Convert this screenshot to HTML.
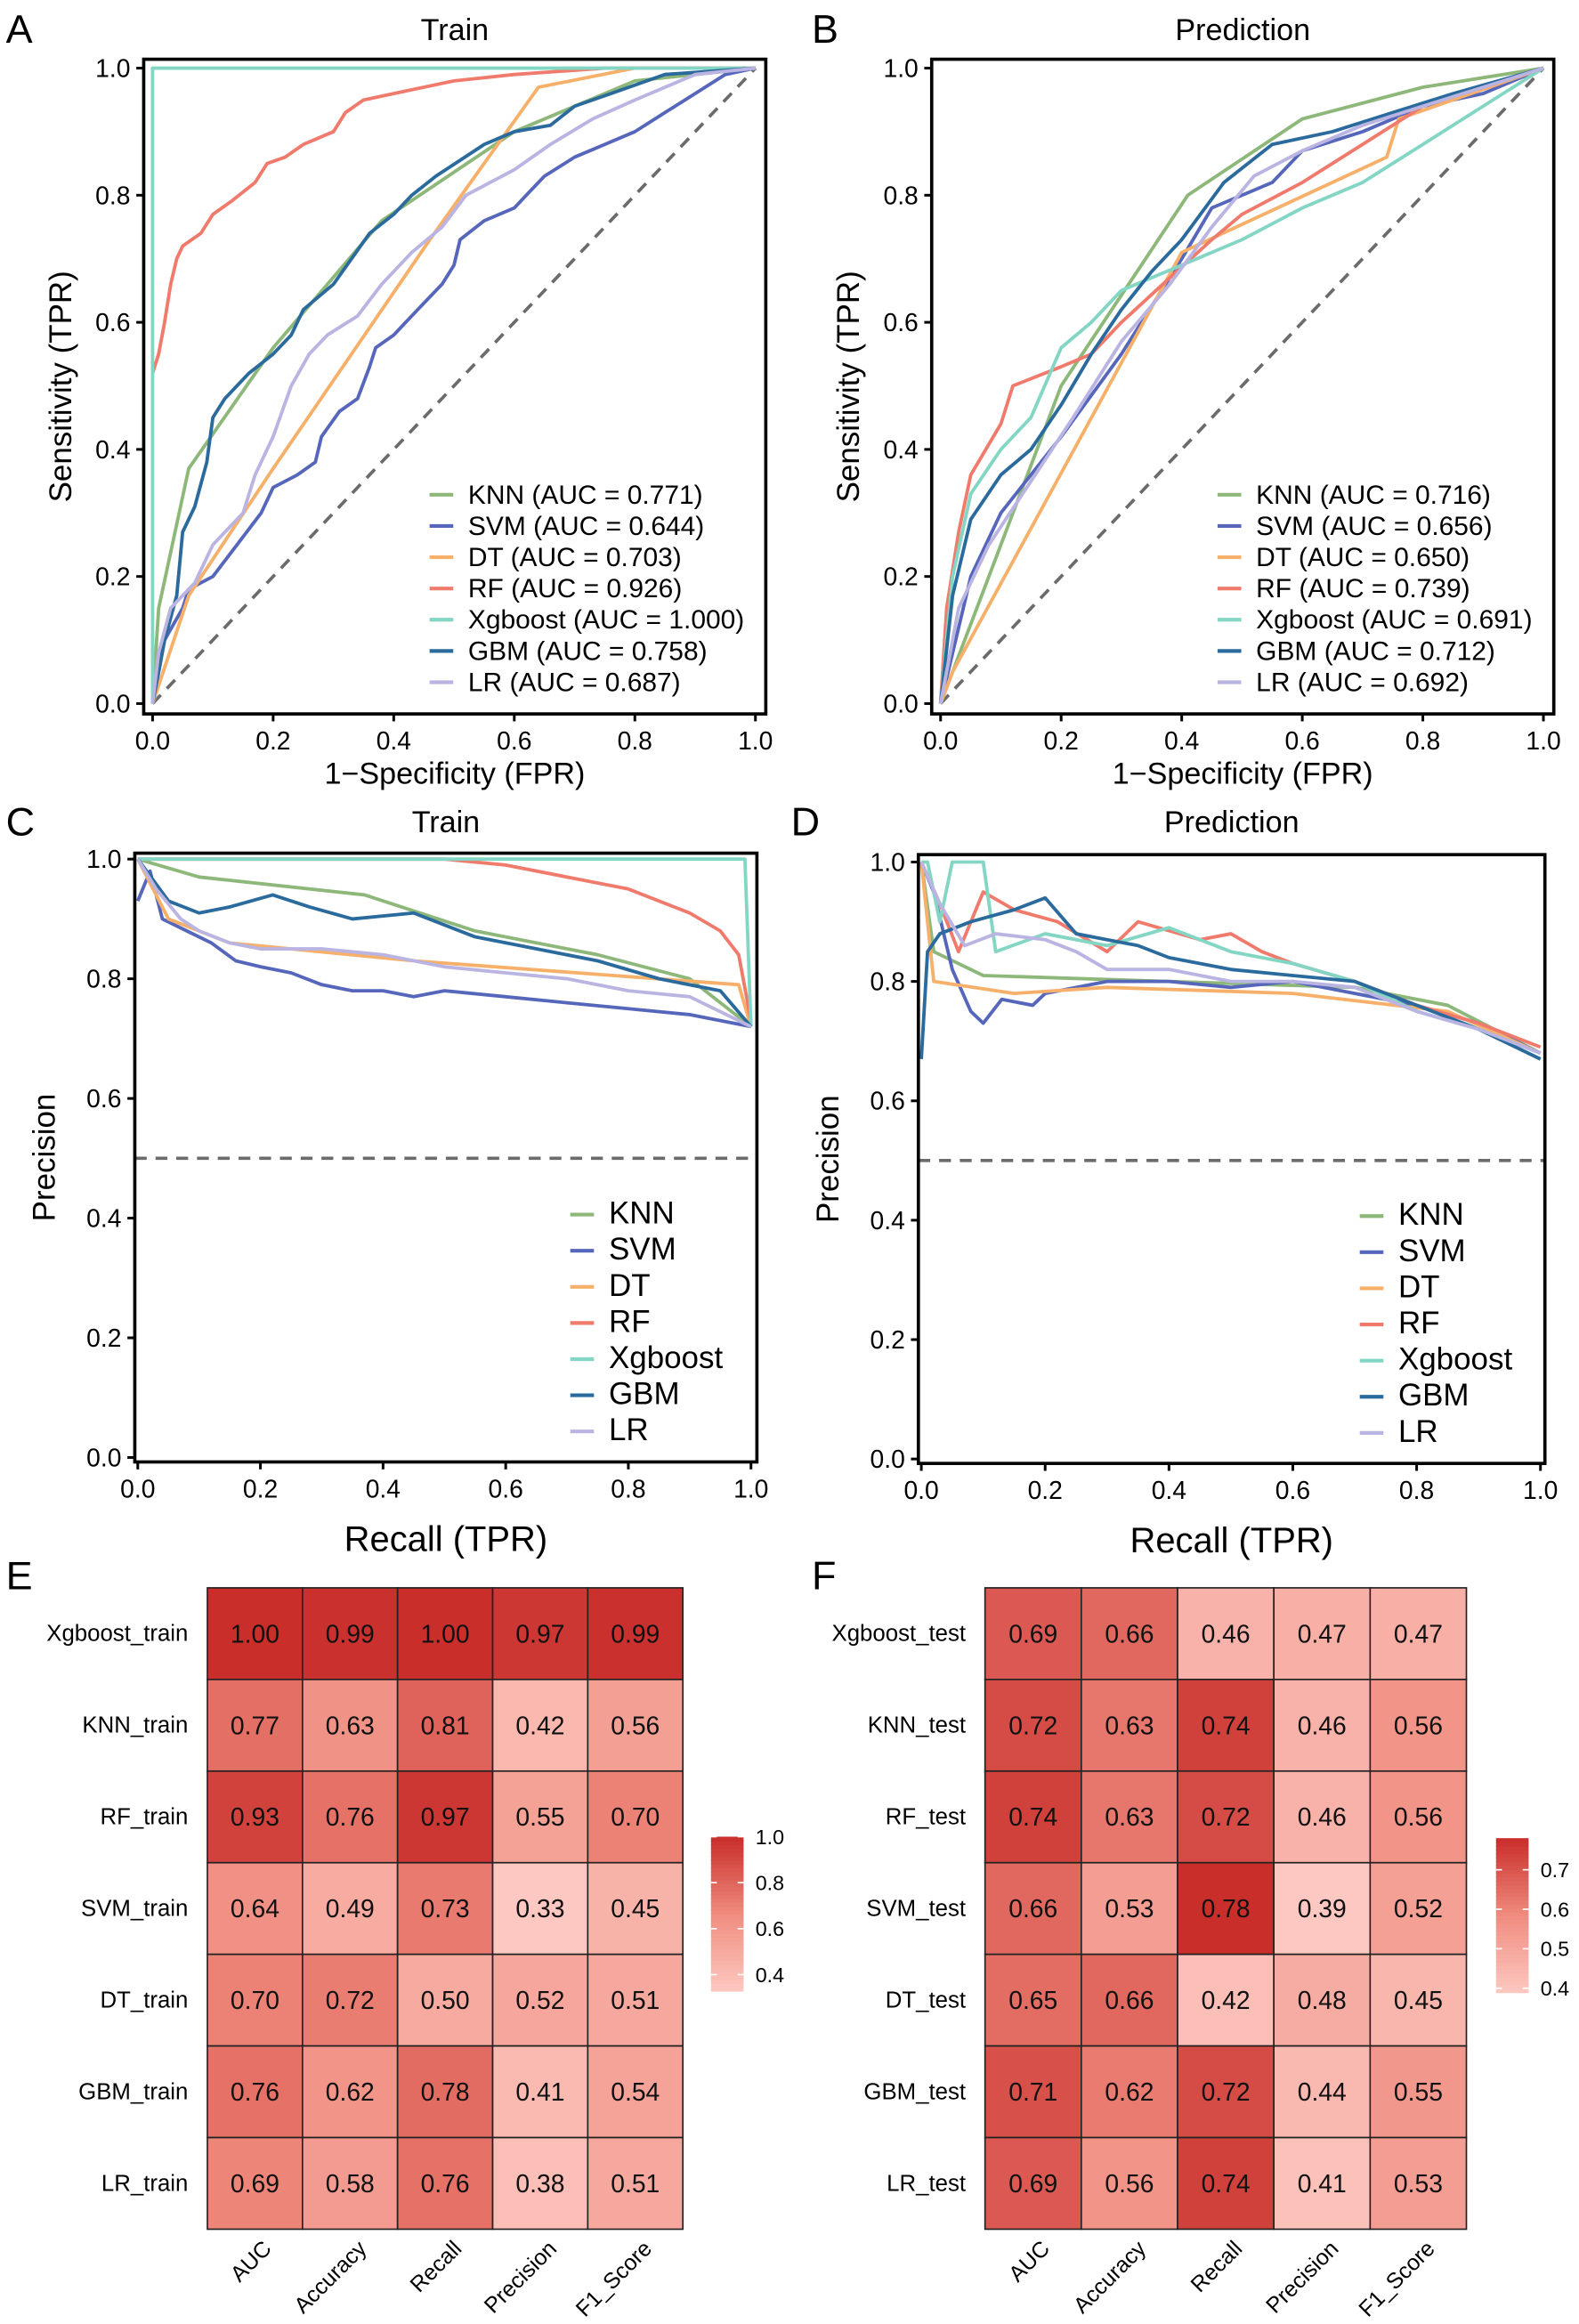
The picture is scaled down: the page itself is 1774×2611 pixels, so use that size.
<!DOCTYPE html>
<html><head><meta charset="utf-8"><style>
html,body{margin:0;padding:0;background:#fff;}
svg{display:block;font-family:"Liberation Sans",Arial,sans-serif;}
</style></head><body>
<svg id="fig" width="1774" height="2611" viewBox="0 0 1066 1569" xmlns="http://www.w3.org/2000/svg"></svg>
<script>
const models = ["KNN","SVM","DT","RF","Xgboost","GBM","LR"];
const colors = ["#8db87a","#5566bb","#f6b06a","#f07a6c","#84d6c4","#2b6a9c","#bab4e2"];
const aucTrain = ["0.771","0.644","0.703","0.926","1.000","0.758","0.687"];
const aucPred = ["0.716","0.656","0.650","0.739","0.691","0.712","0.692"];
const rocTrainKNN=[[0,0],[0.01,0.15],[0.06,0.37],[0.2,0.56],[0.38,0.76],[0.6,0.9],[0.8,0.98],[1,1]];
const rocTrainSVM=[[0,0],[0.01,0.05],[0.02,0.1],[0.05,0.15],[0.06,0.18],[0.1,0.2],[0.14,0.25],[0.18,0.3],[0.2,0.34],[0.24,0.36],[0.27,0.38],[0.28,0.42],[0.31,0.46],[0.34,0.48],[0.36,0.53],[0.37,0.56],[0.4,0.58],[0.42,0.6],[0.45,0.63],[0.48,0.66],[0.5,0.69],[0.51,0.73],[0.55,0.76],[0.6,0.78],[0.62,0.8],[0.65,0.83],[0.7,0.86],[0.75,0.88],[0.8,0.9],[0.85,0.93],[0.9,0.96],[0.95,0.99],[1,1]];
const rocTrainDT=[[0,0],[0.06,0.17],[0.2,0.37],[0.46,0.73],[0.64,0.97],[0.8,1.0],[1,1]];
const rocTrainRF=[[0,0.52],[0.01,0.55],[0.02,0.6],[0.03,0.66],[0.04,0.7],[0.05,0.72],[0.08,0.74],[0.1,0.77],[0.13,0.79],[0.17,0.82],[0.19,0.85],[0.22,0.86],[0.25,0.88],[0.3,0.9],[0.32,0.93],[0.35,0.95],[0.4,0.96],[0.5,0.98],[0.6,0.99],[0.75,1.0],[1,1]];
const rocTrainXGB=[[0,0],[0,1],[1,1]];
const rocTrainGBM=[[0,0],[0.01,0.05],[0.02,0.1],[0.04,0.17],[0.05,0.27],[0.07,0.31],[0.09,0.38],[0.1,0.45],[0.12,0.48],[0.16,0.52],[0.2,0.55],[0.23,0.58],[0.25,0.62],[0.3,0.66],[0.33,0.7],[0.36,0.74],[0.4,0.77],[0.43,0.8],[0.47,0.83],[0.55,0.88],[0.6,0.9],[0.66,0.91],[0.7,0.94],[0.76,0.96],[0.85,0.99],[1,1]];
const rocTrainLR=[[0,0],[0.01,0.08],[0.03,0.15],[0.07,0.19],[0.1,0.25],[0.15,0.3],[0.17,0.36],[0.2,0.42],[0.23,0.5],[0.26,0.55],[0.29,0.58],[0.34,0.61],[0.38,0.66],[0.43,0.71],[0.48,0.75],[0.52,0.8],[0.6,0.84],[0.66,0.88],[0.73,0.92],[0.8,0.95],[0.9,0.99],[1,1]];
const rocPredKNN=[[0,0],[0.08,0.2],[0.2,0.5],[0.41,0.8],[0.6,0.92],[0.8,0.97],[1,1]];
const rocPredSVM=[[0,0],[0.05,0.2],[0.1,0.3],[0.2,0.42],[0.3,0.55],[0.4,0.7],[0.45,0.78],[0.55,0.82],[0.6,0.87],[0.7,0.9],[0.8,0.94],[0.9,0.96],[1,1]];
const rocPredDT=[[0,0],[0.02,0.05],[0.4,0.71],[0.74,0.86],[0.76,0.92],[1,1]];
const rocPredRF=[[0,0],[0.01,0.15],[0.03,0.27],[0.05,0.36],[0.1,0.44],[0.12,0.5],[0.2,0.53],[0.25,0.55],[0.3,0.6],[0.38,0.67],[0.45,0.73],[0.5,0.77],[0.6,0.82],[0.7,0.88],[0.8,0.94],[0.9,0.97],[1,1]];
const rocPredXGB=[[0,0],[0.02,0.2],[0.05,0.33],[0.1,0.4],[0.15,0.45],[0.2,0.56],[0.25,0.6],[0.3,0.65],[0.4,0.69],[0.5,0.73],[0.6,0.78],[0.7,0.82],[0.8,0.88],[0.9,0.94],[1,1]];
const rocPredGBM=[[0,0],[0.02,0.17],[0.05,0.29],[0.1,0.36],[0.15,0.4],[0.2,0.47],[0.25,0.55],[0.3,0.62],[0.35,0.68],[0.4,0.73],[0.47,0.82],[0.55,0.88],[0.65,0.9],[0.75,0.93],[0.85,0.96],[1,1]];
const rocPredLR=[[0,0],[0.03,0.15],[0.08,0.25],[0.15,0.35],[0.22,0.45],[0.3,0.57],[0.38,0.66],[0.45,0.75],[0.52,0.83],[0.6,0.87],[0.7,0.91],[0.8,0.94],[0.9,0.97],[1,1]];
const prTrainKNN=[[0,1],[0.1,0.97],[0.37,0.94],[0.55,0.88],[0.75,0.84],[0.9,0.8],[1,0.72]];
const prTrainSVM=[[0,0.93],[0.02,0.98],[0.04,0.9],[0.08,0.88],[0.12,0.86],[0.16,0.83],[0.2,0.82],[0.25,0.81],[0.3,0.79],[0.35,0.78],[0.4,0.78],[0.45,0.77],[0.5,0.78],[0.6,0.77],[0.7,0.76],[0.8,0.75],[0.9,0.74],[1,0.72]];
const prTrainDT=[[0,1],[0.05,0.9],[0.15,0.86],[0.45,0.83],[0.98,0.79],[1,0.72]];
const prTrainRF=[[0,1],[0.5,1],[0.6,0.99],[0.7,0.97],[0.8,0.95],[0.9,0.91],[0.95,0.88],[0.98,0.84],[1,0.73]];
const prTrainXGB=[[0,1],[0.99,1],[1,0.72]];
const prTrainGBM=[[0,1],[0.05,0.93],[0.1,0.91],[0.15,0.92],[0.22,0.94],[0.28,0.92],[0.35,0.9],[0.45,0.91],[0.55,0.87],[0.65,0.85],[0.75,0.83],[0.85,0.8],[0.95,0.78],[1,0.72]];
const prTrainLR=[[0,1],[0.03,0.95],[0.07,0.9],[0.1,0.88],[0.15,0.86],[0.2,0.85],[0.3,0.85],[0.4,0.84],[0.5,0.82],[0.6,0.81],[0.7,0.8],[0.8,0.78],[0.9,0.77],[1,0.72]];
const prPredKNN=[[0,1],[0.02,0.85],[0.1,0.81],[0.4,0.8],[0.7,0.79],[0.85,0.76],[1,0.68]];
const prPredSVM=[[0,1],[0.02,0.95],[0.05,0.82],[0.08,0.75],[0.1,0.73],[0.13,0.77],[0.18,0.76],[0.2,0.78],[0.3,0.8],[0.4,0.8],[0.5,0.79],[0.6,0.8],[0.7,0.78],[0.8,0.76],[0.9,0.73],[1,0.68]];
const prPredDT=[[0,1],[0.02,0.8],[0.15,0.78],[0.3,0.79],[0.6,0.78],[0.85,0.75],[1,0.68]];
const prPredRF=[[0,1],[0.03,0.93],[0.06,0.85],[0.1,0.95],[0.15,0.92],[0.22,0.9],[0.3,0.85],[0.35,0.9],[0.45,0.87],[0.5,0.88],[0.55,0.85],[0.6,0.83],[0.7,0.8],[0.8,0.76],[0.9,0.73],[1,0.69]];
const prPredXGB=[[0,1],[0.01,1],[0.03,0.9],[0.05,1],[0.1,1],[0.12,0.85],[0.2,0.88],[0.3,0.86],[0.4,0.89],[0.5,0.85],[0.6,0.83],[0.7,0.8],[0.8,0.75],[0.9,0.72],[1,0.68]];
const prPredGBM=[[0,0.67],[0.01,0.85],[0.03,0.88],[0.08,0.9],[0.15,0.92],[0.2,0.94],[0.25,0.88],[0.3,0.87],[0.35,0.86],[0.4,0.84],[0.5,0.82],[0.6,0.81],[0.7,0.8],[0.8,0.76],[0.9,0.72],[1,0.67]];
const prPredLR=[[0,1],[0.03,0.93],[0.07,0.86],[0.12,0.88],[0.2,0.87],[0.25,0.85],[0.3,0.82],[0.4,0.82],[0.5,0.8],[0.6,0.8],[0.7,0.79],[0.8,0.75],[0.9,0.72],[1,0.68]];
const tickLabels = ["0.0","0.2","0.4","0.6","0.8","1.0"];
const metrics = ["AUC","Accuracy","Recall","Precision","F1_Score"];
const rowsTrain = ["Xgboost_train","KNN_train","RF_train","SVM_train","DT_train","GBM_train","LR_train"];
const rowsTest = ["Xgboost_test","KNN_test","RF_test","SVM_test","DT_test","GBM_test","LR_test"];
const valsTrain = [[1.00,0.99,1.00,0.97,0.99],[0.77,0.63,0.81,0.42,0.56],[0.93,0.76,0.97,0.55,0.70],[0.64,0.49,0.73,0.33,0.45],[0.70,0.72,0.50,0.52,0.51],[0.76,0.62,0.78,0.41,0.54],[0.69,0.58,0.76,0.38,0.51]];
const valsTest = [[0.69,0.66,0.46,0.47,0.47],[0.72,0.63,0.74,0.46,0.56],[0.74,0.63,0.72,0.46,0.56],[0.66,0.53,0.78,0.39,0.52],[0.65,0.66,0.42,0.48,0.45],[0.71,0.62,0.72,0.44,0.55],[0.69,0.56,0.74,0.41,0.53]];
const cbTicksTrain = [0.4,0.6,0.8,1.0];
const cbTicksTest = [0.4,0.5,0.6,0.7];

const NS="http://www.w3.org/2000/svg";
const svg=document.getElementById('fig');
function el(tag,attrs,parent,text){const e=document.createElementNS(NS,tag);for(const k in attrs)e.setAttribute(k,attrs[k]);if(text!==undefined)e.textContent=text;(parent||svg).appendChild(e);return e;}

function linePanel(cfg){
  const g=el('g',{});
  
  
  const sx=v=>cfg.x0+(cfg.x1-cfg.x0)*v, sy=v=>cfg.y0+(cfg.y1-cfg.y0)*v;
  const L=el('text',{x:cfg.letterX,y:cfg.titleY+9,'font-size':27},g,cfg.letter);
  
  const T=el('text',{x:(cfg.bx0+cfg.bx1)/2,y:cfg.titleY+7,'font-size':20.5,'text-anchor':'middle'},g,cfg.title);
  
  let b;
  if(cfg.roc) b=el('line',{x1:sx(0),y1:sy(0),x2:sx(1),y2:sy(1),stroke:'#6b6b6b','stroke-width':2.2,'stroke-dasharray':'8,6'},g);
  else b=el('line',{x1:cfg.bx0,y1:sy(0.5),x2:cfg.bx1,y2:sy(0.5),stroke:'#6b6b6b','stroke-width':2.2,'stroke-dasharray':'8,6'},g);
  
  cfg.series.forEach((pts,i)=>{
    const d=pts.map((p,j)=>(j?'L':'M')+sx(p[0]).toFixed(1)+','+sy(p[1]).toFixed(1)).join('');
    const p=el('path',{d:d,fill:'none',stroke:colors[i],'stroke-width':2.3,'stroke-linejoin':'round'},g);
    
    
  });
  const box=el('rect',{x:cfg.bx0,y:cfg.by0,width:cfg.bx1-cfg.bx0,height:cfg.by1-cfg.by0,fill:'none',stroke:'#000','stroke-width':2.2},g);
  
  tickLabels.forEach((t,i)=>{
    const v=i/5;
    el('line',{x1:sx(v),y1:cfg.by1,x2:sx(v),y2:cfg.by1+5,stroke:'#000','stroke-width':1.8},g);
    const xt=el('text',{x:sx(v),y:cfg.by1+24,'font-size':17,'text-anchor':'middle'},g,t);
    
    el('line',{x1:cfg.bx0-5,y1:sy(v),x2:cfg.bx0,y2:sy(v),stroke:'#000','stroke-width':1.8},g);
    const yt=el('text',{x:cfg.bx0-9,y:sy(v)+6,'font-size':17,'text-anchor':'end'},g,t);
    
  });
  const xl=el('text',{x:(cfg.bx0+cfg.bx1)/2,y:cfg.xlabY,'font-size':cfg.roc?20.5:24,'text-anchor':'middle'},g,cfg.xlab);
  
  const yc=(cfg.by0+cfg.by1)/2;
  const yl=el('text',{x:cfg.ylabX,y:yc,'font-size':21,'text-anchor':'middle',transform:`rotate(-90 ${cfg.ylabX} ${yc})`},g,cfg.ylab);
  
  models.forEach((m,i)=>{
    const y=cfg.legY+i*cfg.legStep;
    const lg=el('g',{},g);
    
    
    el('line',{x1:cfg.legX,y1:y,x2:cfg.legX+16,y2:y,stroke:colors[i],'stroke-width':2.5},lg);
    el('text',{x:cfg.legX+26,y:y+6,'font-size':cfg.legFont},lg,cfg.auc?`${m} (AUC = ${cfg.auc[i]})`:m);
  });
}

linePanel({name:'roc-train-panel',letter:'A',letterX:4,title:'Train',titleY:20,roc:true,x0:103,x1:510,y0:475,y1:46,bx0:97,bx1:517,by0:40,by1:482,
  series:[rocTrainKNN,rocTrainSVM,rocTrainDT,rocTrainRF,rocTrainXGB,rocTrainGBM,rocTrainLR],xlab:'1\u2212Specificity (FPR)',xlabY:529,ylab:'Sensitivity (TPR)',ylabX:48,
  legX:290,legY:334,legStep:21.1,legFont:18,auc:aucTrain});
linePanel({name:'roc-prediction-panel',letter:'B',letterX:548,title:'Prediction',titleY:20,roc:true,x0:635,x1:1042,y0:475,y1:46,bx0:629,bx1:1049,by0:40,by1:482,
  series:[rocPredKNN,rocPredSVM,rocPredDT,rocPredRF,rocPredXGB,rocPredGBM,rocPredLR],xlab:'1\u2212Specificity (FPR)',xlabY:529,ylab:'Sensitivity (TPR)',ylabX:580,
  legX:822,legY:334,legStep:21.1,legFont:18,auc:aucPred});
linePanel({name:'pr-train-panel',letter:'C',letterX:4,title:'Train',titleY:555,roc:false,x0:93,x1:507,y0:984,y1:580,bx0:91,bx1:511,by0:576,by1:987,
  series:[prTrainKNN,prTrainSVM,prTrainDT,prTrainRF,prTrainXGB,prTrainGBM,prTrainLR],xlab:'Recall (TPR)',xlabY:1047,ylab:'Precision',ylabX:37,
  legX:385,legY:820,legStep:24.4,legFont:21});
linePanel({name:'pr-prediction-panel',letter:'D',letterX:534,title:'Prediction',titleY:555,roc:false,x0:622,x1:1040,y0:985,y1:582,bx0:620,bx1:1043,by0:577,by1:988,
  series:[prPredKNN,prPredSVM,prPredDT,prPredRF,prPredXGB,prPredGBM,prPredLR],xlab:'Recall (TPR)',xlabY:1048,ylab:'Precision',ylabX:566,
  legX:918,legY:821,legStep:24.4,legFont:21});

function hexToRgb(h){return [1,3,5].map(i=>parseInt(h.substr(i,2),16));}
const stops=[hexToRgb('#fdc8c1'),hexToRgb('#f08c7f'),hexToRgb('#c92e2b')];
function colorAt(t){t=Math.max(0,Math.min(1,t));let a,b,u;if(t<0.5){a=stops[0];b=stops[1];u=t/0.5;}else{a=stops[1];b=stops[2];u=(t-0.5)/0.5;}
  return 'rgb('+a.map((v,i)=>Math.round(v+(b[i]-v)*u)).join(',')+')';}

function heatmap(cfg){
  const g=el('g',{});
  
  
  const L=el('text',{x:cfg.letterX,y:1073,'font-size':27},g,cfg.letter);
  
  const nC=metrics.length,nR=cfg.rows.length;
  const cw=(cfg.x1-cfg.x0)/nC, ch=(cfg.y1-cfg.y0)/nR;
  const flat=cfg.vals.flat(); const mn=Math.min(...flat), mx=Math.max(...flat);
  cfg.vals.forEach((row,r)=>{
    row.forEach((v,c)=>{
      const x=cfg.x0+c*cw,y=cfg.y0+r*ch;
      const rc=el('rect',{x:x,y:y,width:cw,height:ch,fill:colorAt((v-mn)/(mx-mn)),stroke:'#222','stroke-width':1},g);
      
      
      const tx=el('text',{x:x+cw/2,y:y+ch/2+6,'font-size':17,'text-anchor':'middle',fill:'#111'},g,v.toFixed(2));
      
      
    });
    const rl=el('text',{x:cfg.x0-13,y:cfg.y0+r*ch+ch/2+5,'font-size':15.5,'text-anchor':'end'},g,cfg.rows[r]);
    
    
  });
  metrics.forEach((m,c)=>{
    const x=cfg.x0+c*cw+cw/2+12,y=cfg.y1+14;
    const t=el('text',{x:x,y:y,'font-size':15,'text-anchor':'end',transform:`rotate(-45 ${x} ${y})`},g,m);
    
    
  });
  const cb=el('g',{},g);
  
  
  const by=v=>cfg.cbBot+(cfg.cbTop-cfg.cbBot)*(v-mn)/(mx-mn);
  const n=40;
  for(let i=0;i<n;i++){
    const v0=mn+(mx-mn)*i/n,v1=mn+(mx-mn)*(i+1)/n;
    el('rect',{x:cfg.cbX,y:by(v1),width:22,height:by(v0)-by(v1)+0.6,fill:colorAt(((v0+v1)/2-mn)/(mx-mn))},cb);
  }
  cfg.cbTicks.forEach(t=>{
    el('line',{x1:cfg.cbX,y1:by(t),x2:cfg.cbX+4,y2:by(t),stroke:'#fff','stroke-width':1},cb);
    el('line',{x1:cfg.cbX+18,y1:by(t),x2:cfg.cbX+22,y2:by(t),stroke:'#fff','stroke-width':1},cb);
    el('text',{x:cfg.cbX+30,y:by(t)+5,'font-size':14},cb,t.toFixed(1));
  });
}
heatmap({name:'heatmap-train',letter:'E',letterX:4,rows:rowsTrain,vals:valsTrain,x0:140,x1:461,y0:1072,y1:1505,cbX:480,cbTop:1240,cbBot:1344,cbTicks:cbTicksTrain});
heatmap({name:'heatmap-test',letter:'F',letterX:548,rows:rowsTest,vals:valsTest,x0:665,x1:990,y0:1072,y1:1505,cbX:1010,cbTop:1241,cbBot:1345,cbTicks:cbTicksTest});
</script>
</body></html>
